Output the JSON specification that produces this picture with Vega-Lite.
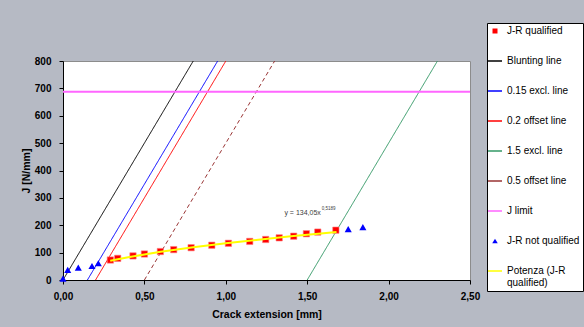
{
  "$schema": "https://vega.github.io/schema/vega-lite/v6.json",
  "autosize": {"type": "none"},
  "padding": {"left": 63, "top": 61, "right": 114, "bottom": 47},
  "width": 407,
  "height": 219,
  "background": "#b6bac4",
  "config": {
    "font": "Liberation Sans",
    "view": {"fill": "white", "stroke": "#8c8c8c", "strokeWidth": 1},
    "axis": {
      "domainColor": "black", "tickColor": "black", "labelColor": "black", "titleColor": "black",
      "labelFontWeight": "bold", "titleFontWeight": "bold", "labelFontSize": 10, "titleFontSize": 10.5,
      "grid": false, "tickSize": 4, "domainWidth": 1, "tickWidth": 1, "labelFont": "Liberation Sans", "titleFont": "Liberation Sans"
    }
  },
  "encoding": {
    "x": {
      "field": "x", "type": "quantitative",
      "scale": {"domain": [0, 2.5], "nice": false},
      "axis": {"title": "Crack extension [mm]", "values": [0, 0.5, 1, 1.5, 2, 2.5], "labelFlush": false,
        "labelExpr": "replace(format(datum.value, '.2f'), '.', ',')", "labelPadding": 7, "titlePadding": 8}
    },
    "y": {
      "field": "y", "type": "quantitative",
      "scale": {"domain": [0, 800], "nice": false},
      "axis": {"title": "J [N/mm]", "values": [0, 100, 200, 300, 400, 500, 600, 700, 800], "labelPadding": 8, "titlePadding": 3}
    },
    "color": {
      "field": "series", "type": "nominal",
      "scale": {
        "domain": ["J-R qualified", "Blunting line", "0.15 excl. line", "0.2 offset line", "1.5 excl. line", "0.5 offset line", "J limit", "J-R not qualified", "Potenza (J-R qualified)"],
        "range": ["#ff0000", "#000000", "#0000ff", "#ff0000", "#339966", "#993333", "#ff66ff", "#0000ff", "#ffff00"]
      },
      "legend": {
        "orient": "none", "legendX": 424, "legendY": -38,
        "title": null, "fillColor": "white", "strokeColor": "black", "padding": 3,
        "symbolSize": 196, "symbolStrokeWidth": 1.5, "labelFontSize": 10, "labelOffset": 7, "rowPadding": 20,
        "labelFont": "Liberation Sans", "labelColor": "black", "labelLimit": 200,
        "labelExpr": "datum.label == 'Potenza (J-R qualified)' ? ['Potenza (J-R', 'qualified)'] : datum.label",
        "encode": {
          "symbols": {
            "update": {
              "shape": {"signal": "datum.value == 'J-R qualified' ? 'square' : datum.value == 'J-R not qualified' ? 'triangle-up' : 'stroke'"},
              "size": {"signal": "datum.value == 'J-R qualified' ? 25 : datum.value == 'J-R not qualified' ? 30 : 196"},
              "fill": {"signal": "datum.value == 'J-R qualified' || datum.value == 'J-R not qualified' ? scale('color', datum.value) : 'transparent'"},
              "stroke": {"signal": "scale('color', datum.value)"},
              "strokeWidth": {"signal": "datum.value == 'J-R qualified' || datum.value == 'J-R not qualified' ? 0 : 1.5"},
              "opacity": {"value": 1}
            }
          }
        }
      }
    }
  },
  "layer": [
    {
      "data": {"values": [
        {"series": "Blunting line", "x": 0, "y": 0}, {"series": "Blunting line", "x": 0.8, "y": 800},
        {"series": "0.15 excl. line", "x": 0.15, "y": 0}, {"series": "0.15 excl. line", "x": 0.95, "y": 800},
        {"series": "0.2 offset line", "x": 0.2, "y": 0}, {"series": "0.2 offset line", "x": 1.0, "y": 800},
        {"series": "1.5 excl. line", "x": 1.5, "y": 0}, {"series": "1.5 excl. line", "x": 2.3, "y": 800},
        {"series": "0.5 offset line", "x": 0.5, "y": 0}, {"series": "0.5 offset line", "x": 1.3, "y": 800},
        {"series": "J limit", "x": 0, "y": 688}, {"series": "J limit", "x": 2.5, "y": 688}
      ]},
      "mark": {"type": "line"},
      "encoding": {
        "strokeWidth": {"condition": {"test": "datum.series == 'J limit'", "value": 2}, "value": 1},
        "strokeDash": {"condition": {"test": "datum.series == '0.5 offset line'", "value": [4, 3]}, "value": [1, 0]}
      }
    },
    {
      "data": {"values": [
        {"series": "J-R qualified", "x": 0.291, "y": 73}, {"series": "J-R qualified", "x": 0.336, "y": 79},
        {"series": "J-R qualified", "x": 0.43, "y": 88}, {"series": "J-R qualified", "x": 0.5, "y": 95},
        {"series": "J-R qualified", "x": 0.598, "y": 104}, {"series": "J-R qualified", "x": 0.68, "y": 111},
        {"series": "J-R qualified", "x": 0.787, "y": 118}, {"series": "J-R qualified", "x": 0.914, "y": 127},
        {"series": "J-R qualified", "x": 1.016, "y": 134}, {"series": "J-R qualified", "x": 1.147, "y": 141},
        {"series": "J-R qualified", "x": 1.245, "y": 148}, {"series": "J-R qualified", "x": 1.328, "y": 154},
        {"series": "J-R qualified", "x": 1.417, "y": 160}, {"series": "J-R qualified", "x": 1.495, "y": 169},
        {"series": "J-R qualified", "x": 1.565, "y": 175}, {"series": "J-R qualified", "x": 1.676, "y": 182}
      ]},
      "mark": {"type": "point", "shape": "square", "filled": true, "size": 40, "opacity": 1, "stroke": "#ff8080", "strokeWidth": 1, "strokeOpacity": 0.6}
    },
    {
      "data": {"values": [
        {"series": "J-R not qualified", "x": 0, "y": 5}, {"series": "J-R not qualified", "x": 0.029, "y": 37},
        {"series": "J-R not qualified", "x": 0.094, "y": 45}, {"series": "J-R not qualified", "x": 0.178, "y": 51},
        {"series": "J-R not qualified", "x": 0.217, "y": 61}, {"series": "J-R not qualified", "x": 1.752, "y": 186},
        {"series": "J-R not qualified", "x": 1.842, "y": 193}
      ]},
      "mark": {"type": "point", "shape": "triangle-up", "filled": true, "size": 50, "opacity": 1}
    },
    {
      "data": {"values": [
        {"series": "Potenza (J-R qualified)", "x": 0.29, "y": 70.5}, {"series": "Potenza (J-R qualified)", "x": 0.4, "y": 83.3},
        {"series": "Potenza (J-R qualified)", "x": 0.6, "y": 102.8}, {"series": "Potenza (J-R qualified)", "x": 0.8, "y": 119.4},
        {"series": "Potenza (J-R qualified)", "x": 1.0, "y": 134.05}, {"series": "Potenza (J-R qualified)", "x": 1.2, "y": 147.4},
        {"series": "Potenza (J-R qualified)", "x": 1.4, "y": 159.6}, {"series": "Potenza (J-R qualified)", "x": 1.6, "y": 171.1},
        {"series": "Potenza (J-R qualified)", "x": 1.68, "y": 175.5}
      ]},
      "mark": {"type": "line", "strokeWidth": 2}
    },
    {
      "data": {"values": [{"x": 1.36, "y": 246, "t": "y = 134,05x"}]},
      "mark": {"type": "text", "align": "left", "baseline": "middle", "fontSize": 7, "font": "Liberation Sans"},
      "encoding": {"text": {"field": "t"}, "color": {"value": "#404040"}}
    },
    {
      "data": {"values": [{"x": 1.59, "y": 259, "t": "0,5189"}]},
      "mark": {"type": "text", "align": "left", "baseline": "middle", "fontSize": 4.5, "font": "Liberation Sans"},
      "encoding": {"text": {"field": "t"}, "color": {"value": "#404040"}}
    }
  ]
}
